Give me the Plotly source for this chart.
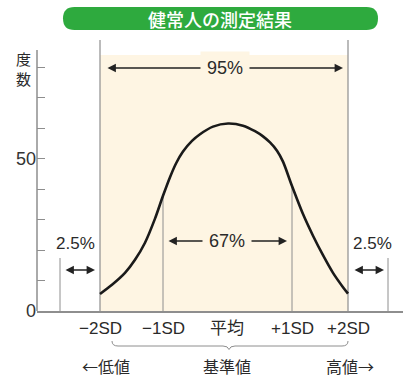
import numpy as np
import plotly.graph_objects as go

# ---------------- data ----------------
title_text = "健常人の測定結果"
y_title = "度<br>数"
freq_ticks = [0, 10, 20, 30, 40, 50, 60, 70, 80]
freq_tick_text = ["0", "", "", "", "", "50", "", "", ""]

sd_labels = ["−2SD", "−1SD", "平均", "+1SD", "+2SD"]
sd_pos = [100, 163, 227, 292, 348]          # measurement scale positions

curve_x = [100, 112, 125, 135, 145, 155, 163, 170, 176, 183, 192, 200, 213, 228,
           243, 255, 263, 270, 277, 283, 292, 303, 313, 323, 333, 343, 348]
curve_y = [5.6, 8.6, 12.5, 16.8, 22.4, 30.3, 37.8, 43.9, 48.4, 52.3, 55.8, 58.0, 60.5, 61.5,
           60.8, 59.0, 57.3, 55.3, 52.6, 49.0, 41.0, 31.8, 24.7, 18.3, 12.5, 7.8, 5.7]

tail_pos = [60, 388]
pct_labels = ["2.5%", "95%", "67%", "2.5%"]
range_labels = ["←低値", "基準値", "高値→"]

# ---------------- layout geometry ----------------
W, H = 410, 381
L, R, T, B = 37, 7, 38, 70
PW, PH = W - L - R, H - T - B
PX_PER_UNIT = 3.048
Y_MAX = PH / PX_PER_UNIT


def fx(px):
    return (px - L) / PW


def fy(py):
    return (H - B - py) / PH


def val(py):
    return (H - B - py) / PX_PER_UNIT


GRAY = "#8e8e8e"
INK = "#222222"
CREAM = "#FEF5E3"
GREEN = "#2EAA3E"
FONT = "Liberation Sans, Arial, Noto Sans CJK JP"
CJK = "Noto Sans CJK JP"

fig = go.Figure()

fig.add_trace(go.Scatter(
    x=curve_x, y=curve_y, mode="lines",
    line=dict(color="#1a1a1a", width=2.6, shape="spline", smoothing=0.8),
    hoverinfo="skip", showlegend=False, cliponaxis=False))

shapes = []
# shaded reference range
shapes.append(dict(type="rect", xref="x", yref="y", x0=sd_pos[0], x1=sd_pos[-1],
                   y0=0, y1=val(55), fillcolor=CREAM, line=dict(width=0), layer="below"))
# +/-2SD lines
for p in (sd_pos[0], sd_pos[-1]):
    shapes.append(dict(type="line", xref="x", yref="y", x0=p, x1=p, y0=0, y1=val(40),
                       line=dict(color=GRAY, width=1.2), layer="below"))
# +/-1SD lines up to curve
for p in (sd_pos[1], sd_pos[3]):
    h = float(np.interp(p, curve_x, curve_y))
    shapes.append(dict(type="line", xref="x", yref="y", x0=p, x1=p, y0=0, y1=h,
                       line=dict(color=GRAY, width=1), layer="below"))
# tail lines
for p in tail_pos:
    shapes.append(dict(type="line", xref="x", yref="y", x0=p, x1=p, y0=0, y1=val(258),
                       line=dict(color=GRAY, width=1), layer="below"))
# y axis line
shapes.append(dict(type="line", xref="paper", yref="y", x0=0, x1=0, y0=0, y1=val(50),
                   line=dict(color=GRAY, width=1.5)))

# brace under SD labels
bp = [(112, 341), (112, 346), (118, 346), (223, 346), (228, 346), (229, 349.5),
      (230, 346), (235, 346), (342, 346), (348, 346), (348, 341)]
bpp = [(fx(a), fy(b)) for a, b in bp]
brace = ("M{0[0]},{0[1]} Q{1[0]},{1[1]} {2[0]},{2[1]} L{3[0]},{3[1]} "
         "Q{4[0]},{4[1]} {5[0]},{5[1]} Q{6[0]},{6[1]} {7[0]},{7[1]} "
         "L{8[0]},{8[1]} Q{9[0]},{9[1]} {10[0]},{10[1]}").format(*bpp)
shapes.append(dict(type="path", xref="paper", yref="paper", path=brace,
                   line=dict(color=GRAY, width=1)))

# title rounded box
x0, x1, y0, y1, r = 63, 378, 7, 30, 11.5
pts = [(x0 + r, y0), (x1 - r, y0), (x1, y0), (x1, y0 + r), (x1, y1 - r), (x1, y1),
       (x1 - r, y1), (x0 + r, y1), (x0, y1), (x0, y1 - r), (x0, y0 + r), (x0, y0), (x0 + r, y0)]
q = [(fx(a), fy(b)) for a, b in pts]
box = ("M{0[0]},{0[1]} L{1[0]},{1[1]} Q{2[0]},{2[1]} {3[0]},{3[1]} L{4[0]},{4[1]} "
       "Q{5[0]},{5[1]} {6[0]},{6[1]} L{7[0]},{7[1]} Q{8[0]},{8[1]} {9[0]},{9[1]} "
       "L{10[0]},{10[1]} Q{11[0]},{11[1]} {12[0]},{12[1]} Z").format(*q)
shapes.append(dict(type="path", xref="paper", yref="paper", path=box,
                   fillcolor=GREEN, line=dict(width=0)))

ann = []


def arrow(xa, xb, y):
    ann.append(dict(x=xb, y=y, ax=xa, ay=y, xref="x", yref="y", axref="x", ayref="y",
                    text="", showarrow=True, arrowhead=2, arrowside="end+start",
                    arrowsize=1.2, arrowwidth=1.4, arrowcolor=INK,
                    standoff=0, startstandoff=0))


def label(text, x, y, size=17, bg=None, pad=1):
    d = dict(x=x, y=y, xref="x", yref="y", text=text, showarrow=False,
             font=dict(family=FONT, size=size, color="#2a2a2a"),
             xanchor="center", yanchor="middle", borderpad=pad)
    if bg:
        d["bgcolor"] = bg
    ann.append(d)


# 95%
arrow(106, 343, val(68))
label(pct_labels[1], 225, val(68), size=18, bg=CREAM, pad=6)
# 67%
arrow(167, 287, val(241))
label(pct_labels[2], 227, val(241), size=18, bg=CREAM, pad=6)
# tails
arrow(64, 95, val(270))
label(pct_labels[0], 75, val(243))
arrow(353, 384, val(270))
label(pct_labels[3], 372, val(243))

# SD labels
for t, p in zip(sd_labels, sd_pos):
    ann.append(dict(x=p, y=fy(328), xref="x", yref="paper", text=t, showarrow=False,
                    font=dict(family=FONT, size=17, color="#2a2a2a"),
                    xanchor="center", yanchor="middle"))
# range labels
for t, p in zip(range_labels, [106, 227, 350]):
    ann.append(dict(x=fx(p), y=fy(366), xref="paper", yref="paper", text=t, showarrow=False,
                    font=dict(family=CJK, size=16, color="#2a2a2a"),
                    xanchor="center", yanchor="middle"))
# y title
ann.append(dict(x=fx(23.5), y=fy(68), xref="paper", yref="paper", text=y_title,
                showarrow=False, font=dict(family=CJK, size=15, color="#2a2a2a"),
                xanchor="center", yanchor="middle"))
# title
ann.append(dict(x=fx(220), y=fy(18.5), xref="paper", yref="paper", text=title_text,
                showarrow=False, font=dict(family=CJK, size=18, color="white", weight=500),
                xanchor="center", yanchor="middle"))

fig.update_layout(
    width=W, height=H, autosize=False,
    margin=dict(l=L, r=R, t=T, b=B, pad=0),
    paper_bgcolor="white", plot_bgcolor="white",
    shapes=shapes, annotations=ann, showlegend=False,
    xaxis=dict(range=[L, W - R], showline=True, linecolor=GRAY, linewidth=1.5,
               showgrid=False, zeroline=False, showticklabels=False, ticks="", fixedrange=True),
    yaxis=dict(range=[0, Y_MAX], tickvals=freq_ticks, ticktext=freq_tick_text,
               ticks="inside", ticklen=8, tickwidth=1.2, tickcolor=GRAY,
               showgrid=False, zeroline=False, showline=False,
               tickfont=dict(family=FONT, size=18, color="#333"), fixedrange=True),
)

fig.write_html(
    "out.html",
    config={"displayModeBar": False},
    post_script="document.body.style.margin='0';document.body.style.overflow='hidden';",
)
